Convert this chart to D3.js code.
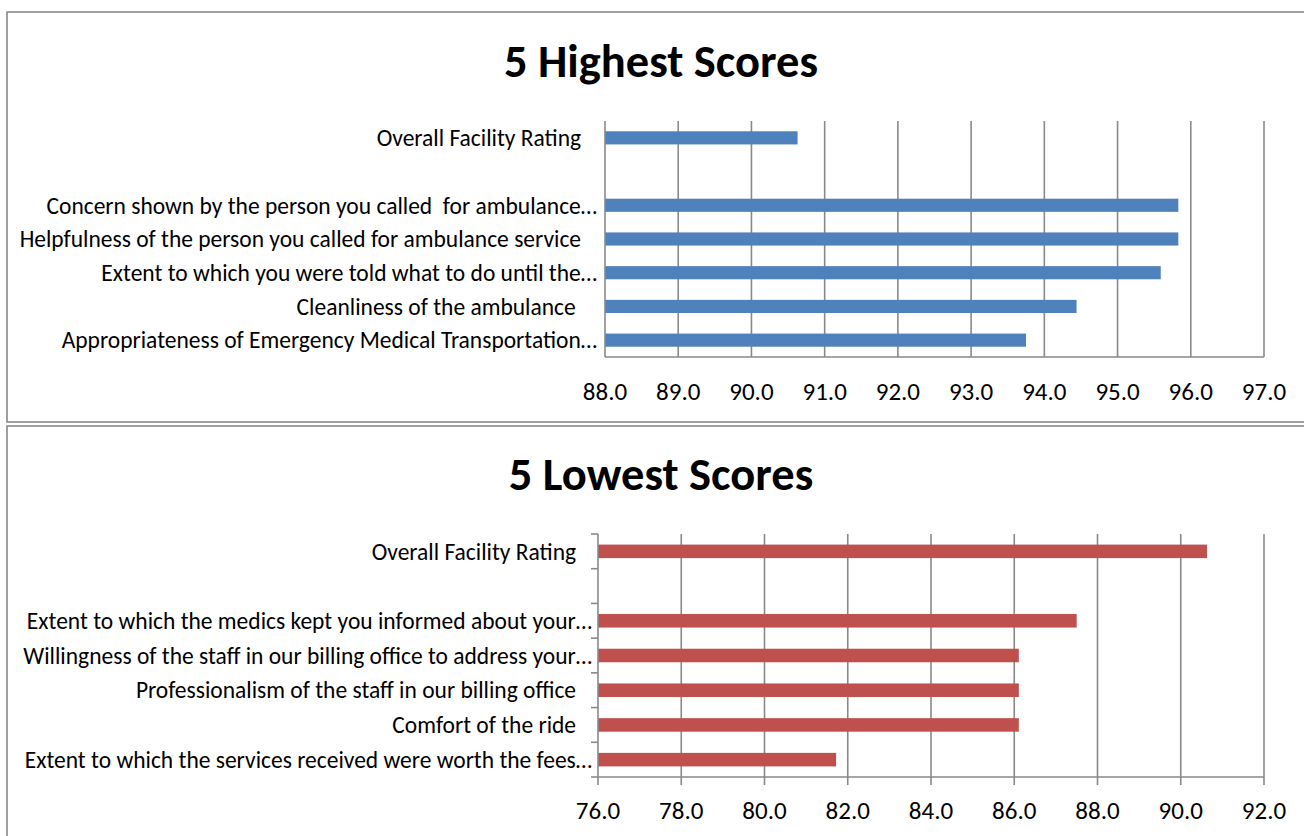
<!DOCTYPE html>
<html><head><meta charset="utf-8">
<script src="https://cdn.jsdelivr.net/npm/d3@7"></script>
<style>
body{margin:0;background:#fff;}
text{font-family:Carlito,Calibri,Lato,sans-serif;fill:#000;white-space:pre;}
</style></head>
<body><svg id="chart" width="1304" height="836"></svg>
<script>
// ---- data ----
const highTitle = "5 Highest Scores";
const highCategories = [
  "Overall Facility Rating   ",
  "",
  "Concern shown by the person you called  for ambulance…",
  "Helpfulness of the person you called for ambulance service   ",
  "Extent to which you were told what to do until the…",
  "Cleanliness of the ambulance    ",
  "Appropriateness of Emergency Medical Transportation…"
];
const highValues = [90.63, null, 95.83, 95.83, 95.59, 94.44, 93.75];
const highTicks = [88, 89, 90, 91, 92, 93, 94, 95, 96, 97];

const lowTitle = "5 Lowest Scores";
const lowCategories = [
  "Overall Facility Rating   ",
  "",
  "Extent to which the medics kept you informed about your…",
  "Willingness of the staff in our billing office to address your…",
  "Professionalism of the staff in our billing office   ",
  "Comfort of the ride   ",
  "Extent to which the services received were worth the fees…"
];
const lowValues = [90.63, null, 87.5, 86.11, 86.11, 86.11, 81.72];
const lowTicks = [76, 78, 80, 82, 84, 86, 88, 90, 92];

// ---- drawing ----
const svg = d3.select("#chart");
const grey = "#898989";

function panel(cfg) {
  const g = svg.append("g");
  // frame
  g.append("rect").attr("x", cfg.box[0]).attr("y", cfg.box[1])
    .attr("width", cfg.box[2]).attr("height", cfg.box[3])
    .attr("fill", "none").attr("stroke", grey).attr("stroke-width", 1.6);
  // title
  g.append("text").attr("x", cfg.titleX).attr("y", cfg.titleY)
    .attr("text-anchor", "middle").attr("font-size", 46.5).attr("font-weight", "bold")
    .text(cfg.title);

  const x = d3.scaleLinear().domain([cfg.ticks[0], cfg.ticks[cfg.ticks.length - 1]])
    .range([cfg.plot.left, cfg.plot.right]);
  const y = d3.scaleBand().domain(d3.range(cfg.categories.length))
    .range([cfg.plot.top, cfg.plot.bottom]).paddingInner(0.61).paddingOuter(0.305);
  const yLines = d3.scaleBand().domain(d3.range(cfg.categories.length))
    .range([cfg.plot.top, cfg.plot.bottom]);

  // gridlines
  g.append("g").selectAll("line").data(cfg.ticks.slice(1)).join("line")
    .attr("x1", d => x(d)).attr("x2", d => x(d))
    .attr("y1", cfg.plot.top).attr("y2", cfg.plot.bottom + cfg.tickLen)
    .attr("stroke", grey).attr("stroke-width", 1.6);

  // bars
  const data = cfg.categories.map((c, i) => ({i, c, v: cfg.values[i]}));
  g.append("g").selectAll("rect").data(data.filter(d => d.v != null)).join("rect")
    .attr("x", x(cfg.ticks[0]))
    .attr("y", d => y(d.i))
    .attr("width", d => x(d.v) - x(cfg.ticks[0]))
    .attr("height", y.bandwidth())
    .attr("fill", cfg.color);

  // y axis line and ticks
  const ax = g.append("g");
  ax.append("line").attr("x1", cfg.plot.left).attr("x2", cfg.plot.left)
    .attr("y1", cfg.plot.top).attr("y2", cfg.plot.bottom + cfg.tickLen)
    .attr("stroke", grey).attr("stroke-width", 1.6);
  if (cfg.yTicks) {
    const bounds = d3.range(cfg.categories.length + 1).map(i =>
      i < cfg.categories.length ? yLines(i) : cfg.plot.bottom);
    ax.selectAll("line.t").data(bounds).join("line").attr("class", "t")
      .attr("x1", cfg.plot.left - 7).attr("x2", cfg.plot.left)
      .attr("y1", d => d).attr("y2", d => d)
      .attr("stroke", grey).attr("stroke-width", 1.6);
  }
  // x axis line
  g.append("line").attr("x1", cfg.plot.left).attr("x2", cfg.plot.right)
    .attr("y1", cfg.plot.bottom).attr("y2", cfg.plot.bottom)
    .attr("stroke", grey).attr("stroke-width", 1.6);

  // category labels
  g.append("g").selectAll("text").data(data).join("text")
    .attr("x", cfg.plot.left - cfg.labelGap)
    .attr("y", d => yLines(d.i) + yLines.bandwidth() / 2)
    .attr("dy", "0.35em").attr("text-anchor", "end").attr("font-size", 23.5)
    .text(d => d.c);

  // tick labels
  g.append("g").selectAll("text").data(cfg.ticks).join("text")
    .attr("x", d => x(d)).attr("y", cfg.plot.bottom + cfg.tickLabelOffset)
    .attr("text-anchor", "middle").attr("font-size", 25)
    .text(d => d3.format(".1f")(d));
}

panel({
  box: [7, 12, 1310, 410], title: highTitle, titleX: 661, titleY: 77,
  plot: {left: 605, right: 1264, top: 121, bottom: 357},
  categories: highCategories, values: highValues, ticks: highTicks,
  color: "#4F81BD", yTicks: false, tickLen: 0, labelGap: 8, tickLabelOffset: 43
});
panel({
  box: [7, 426, 1310, 420], title: lowTitle, titleX: 661, titleY: 490,
  plot: {left: 598, right: 1264, top: 534, bottom: 777},
  categories: lowCategories, values: lowValues, ticks: lowTicks,
  color: "#C0504D", yTicks: true, tickLen: 8, labelGap: 6, tickLabelOffset: 42
});
</script></body></html>
